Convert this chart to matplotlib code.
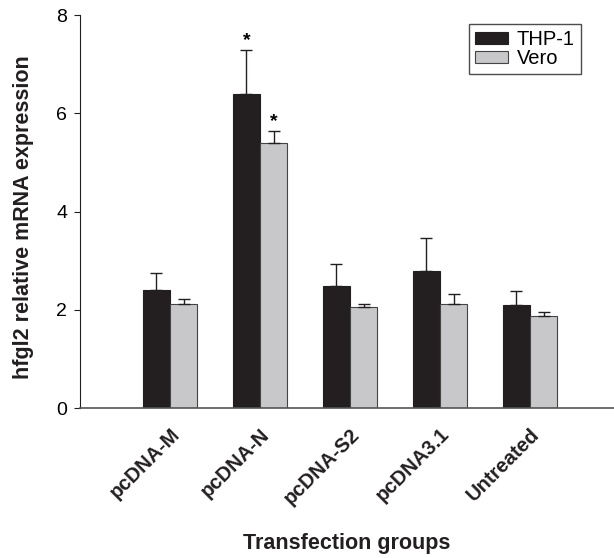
import matplotlib.pyplot as plt
import numpy as np

plt.rcParams["font.family"] = ["Liberation Sans", "DejaVu Sans"]

groups = ["pcDNA-M", "pcDNA-N", "pcDNA-S2", "pcDNA3.1", "Untreated"]
thp1 = [2.40, 6.39, 2.49, 2.79, 2.09]
thp1_err = [0.34, 0.90, 0.45, 0.68, 0.29]
vero = [2.12, 5.39, 2.06, 2.12, 1.87]
vero_err = [0.10, 0.25, 0.06, 0.21, 0.09]
significant = [False, True, False, False, False]

fig = plt.figure(figsize=(6.14, 5.58), dpi=100)
ax = fig.add_axes([0.1303, 0.2688, 0.8697, 0.7043])

x = np.arange(len(groups))
width = 0.305
zeros = np.zeros(len(x))

ax.bar(x - width / 2, thp1, width, color="#231f20", edgecolor="#231f20",
       linewidth=0.8, label="THP-1")
ax.bar(x + width / 2, vero, width, color="#c8c8ca", edgecolor="#444444",
       linewidth=0.8, label="Vero")

ax.errorbar(x - width / 2, thp1, yerr=[zeros, thp1_err], fmt="none",
            ecolor="#231f20", elinewidth=1, capsize=4, capthick=1)
ax.errorbar(x + width / 2, vero, yerr=[zeros, vero_err], fmt="none",
            ecolor="#231f20", elinewidth=1, capsize=4, capthick=1)

# significance marks sit just above the caps
for i, sig in enumerate(significant):
    if sig:
        ax.text(x[i] - width / 2, thp1[i] + thp1_err[i] + 0.1, "*",
                ha="center", va="baseline", fontsize=14, fontweight="bold")
        ax.text(x[i] + width / 2, vero[i] + vero_err[i] + 0.1, "*",
                ha="center", va="baseline", fontsize=14, fontweight="bold")

ax.set_xlim(-1.0, 4.933)
ax.set_ylim(0, 8)
ax.set_yticks([0, 2, 4, 6, 8])
ax.tick_params(axis="y", labelsize=14, length=4.3, width=0.8, pad=5,
               direction="out", color="#231f20")
ax.set_xticks(x)
ax.set_xticklabels(groups, rotation=45, ha="right", rotation_mode="anchor",
                   fontsize=14.5, fontweight="bold", color="#231f20")
ax.tick_params(axis="x", length=0, pad=12)

ax.spines["top"].set_visible(False)
ax.spines["right"].set_visible(False)
ax.spines["left"].set_color("#231f20")
ax.spines["bottom"].set_color("#555555")
ax.spines["bottom"].set_linewidth(1.2)

ax.set_ylabel("hfgl2 relative mRNA expression", fontsize=15.5,
              fontweight="bold", color="#231f20")
ax.yaxis.set_label_coords(-0.086, 0.486)
ax.set_xlabel("Transfection groups", fontsize=15.5, fontweight="bold",
              color="#231f20")
ax.xaxis.set_label_coords(0.5, -0.318)

leg = ax.legend(loc="upper right", bbox_to_anchor=(0.938, 0.977), fontsize=14.5,
                frameon=True, fancybox=False, edgecolor="#231f20",
                handlelength=1.65, handleheight=0.5, handletextpad=0.45,
                labelspacing=0.0, borderpad=0.3, borderaxespad=0)
leg.get_frame().set_linewidth(1)

fig.savefig("out.png", dpi=100)
